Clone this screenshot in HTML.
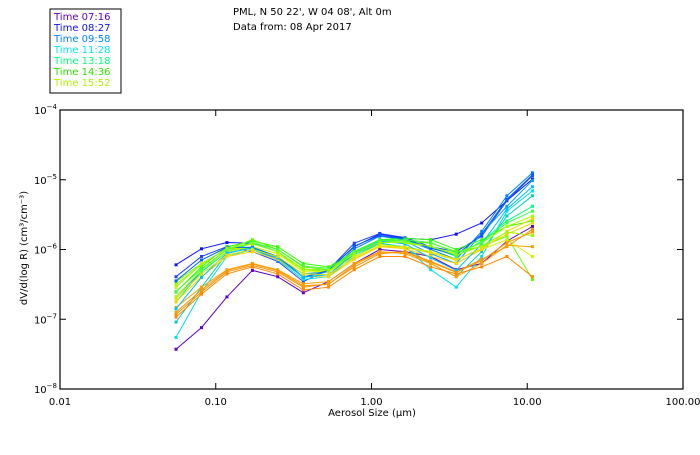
<!DOCTYPE html>
<html><head><meta charset="utf-8"><style>
body{margin:0;background:#fff;}
svg text{font-family:"DejaVu Sans","Liberation Sans",sans-serif;font-size:10px;}
</style></head><body>
<svg id="c" width="700" height="450">
<rect x="50" y="9" width="71" height="84" fill="none" stroke="#000" stroke-width="1"/>
<g>
<text x="54" y="20" fill="#6000c0">Time 07:16</text>
<text x="54" y="31" fill="#1010ff">Time 08:27</text>
<text x="54" y="42" fill="#0080ff">Time 09:58</text>
<text x="54" y="53" fill="#00e8e8">Time 11:28</text>
<text x="54" y="64" fill="#00ff80">Time 13:18</text>
<text x="54" y="75" fill="#30e000">Time 14:36</text>
<text x="54" y="86" fill="#b0f000">Time 15:52</text>
</g>
<text x="233" y="15">PML, N 50 22', W 04 08', Alt 0m</text>
<text x="233" y="30">Data from: 08 Apr 2017</text>
<text x="372" y="416" text-anchor="middle">Aerosol Size (μm)</text>
<text transform="translate(27,248) rotate(-90)" text-anchor="middle">dV/d(log R) (cm³/cm⁻³)</text>
<g id="axes"></g>
<g id="series"></g>
</svg>
<script>
const xTickLabels=["0.01","0.10","1.00","10.00","100.00"];
const xTickValues=[0.01,0.1,1,10,100];
const yTickExps=[-4,-5,-6,-7,-8];
const sizes=[0.0556,0.081,0.118,0.172,0.25,0.365,0.53,0.775,1.13,1.64,2.4,3.5,5.1,7.4,10.8];
const seriesColors=["#6000c0","#1010ff","#2040ff","#0080ff","#00a0ff","#00e0e8","#00d0c0","#00ff80","#30ff00","#60ff00","#b0ff00","#d8f000","#ffd000","#ff9000","#ffa000","#ff8800","#0060ff","#00c0ff","#40ff40","#90ff00","#e0e000","#ff9800"];
const s0=[-7.43,-7.12,-6.68,-6.30,-6.39,-6.62,-6.46,-6.20,-6.00,-6.03,-6.10,-6.29,-6.20,-5.88,-5.67];
const s1=[-6.22,-5.99,-5.90,-5.91,-6.03,-6.29,-6.29,-5.96,-5.78,-5.84,-5.86,-5.78,-5.62,-5.30,-4.99];
const s2=[-6.39,-6.10,-5.96,-6.03,-6.17,-6.46,-6.29,-5.91,-5.77,-5.83,-5.96,-6.03,-5.81,-5.30,-4.94];
const s3=[-6.54,-6.20,-5.99,-5.99,-6.14,-6.39,-6.32,-5.99,-5.81,-5.86,-6.00,-6.14,-5.74,-5.23,-4.90];
const s4=[-6.68,-6.32,-6.03,-5.96,-6.12,-6.35,-6.32,-6.03,-5.86,-5.88,-6.06,-6.20,-5.77,-5.38,-5.01];
const s5=[-7.26,-6.61,-6.10,-6.00,-6.15,-6.43,-6.39,-6.10,-5.91,-5.96,-6.29,-6.54,-6.10,-5.45,-5.16];
const s6=[-7.04,-6.54,-6.06,-5.97,-6.10,-6.39,-6.36,-6.07,-5.91,-5.97,-6.20,-6.39,-6.03,-5.52,-5.23];
const s7=[-6.75,-6.32,-6.03,-5.91,-6.03,-6.29,-6.29,-6.06,-5.88,-5.88,-5.96,-6.10,-5.88,-5.59,-5.38];
const s8=[-6.61,-6.25,-5.96,-5.88,-5.96,-6.20,-6.25,-6.03,-5.86,-5.84,-5.86,-6.00,-5.86,-5.67,-5.59];
const s9=[-6.46,-6.20,-6.00,-5.86,-6.00,-6.25,-6.29,-6.03,-5.88,-5.88,-5.91,-6.03,-5.96,-5.81,-6.43];
const s10=[-6.68,-6.29,-6.03,-5.96,-6.06,-6.29,-6.32,-6.06,-5.88,-5.91,-5.96,-6.06,-5.91,-5.67,-5.52];
const s11=[-6.54,-6.20,-6.00,-5.96,-6.06,-6.32,-6.32,-6.10,-5.93,-5.96,-6.03,-6.14,-6.00,-5.86,-6.10];
const s12=[-6.75,-6.39,-6.10,-6.03,-6.14,-6.39,-6.39,-6.14,-5.96,-5.99,-6.10,-6.20,-6.00,-5.74,-5.56];
const s13=[-6.93,-6.61,-6.32,-6.23,-6.32,-6.54,-6.49,-6.25,-6.06,-6.03,-6.17,-6.32,-6.14,-5.96,-5.71];
const s14=[-6.83,-6.54,-6.29,-6.20,-6.29,-6.49,-6.46,-6.20,-6.03,-6.06,-6.20,-6.39,-6.20,-5.94,-5.96];
const s15=[-6.97,-6.64,-6.35,-6.25,-6.35,-6.58,-6.54,-6.29,-6.10,-6.10,-6.25,-6.35,-6.25,-6.10,-6.39];
const s16=[-6.45,-6.15,-5.97,-5.97,-6.10,-6.40,-6.30,-5.95,-5.80,-5.85,-5.98,-6.08,-5.78,-5.28,-4.93];
const s17=[-6.85,-6.40,-6.05,-5.98,-6.12,-6.40,-6.36,-6.05,-5.88,-5.92,-6.12,-6.30,-5.92,-5.42,-5.10];
const s18=[-6.60,-6.28,-6.00,-5.90,-6.00,-6.24,-6.27,-6.04,-5.87,-5.86,-5.90,-6.05,-5.90,-5.62,-5.45];
const s19=[-6.50,-6.22,-5.98,-5.92,-6.03,-6.28,-6.30,-6.06,-5.90,-5.90,-5.95,-6.08,-5.95,-5.75,-5.80];
const s20=[-6.70,-6.35,-6.08,-6.00,-6.10,-6.35,-6.36,-6.12,-5.95,-5.97,-6.05,-6.15,-5.98,-5.78,-5.62];
const s21=[-6.90,-6.58,-6.30,-6.21,-6.30,-6.52,-6.50,-6.22,-6.04,-6.04,-6.18,-6.33,-6.16,-5.90,-5.75];
const seriesData=[s0,s1,s2,s3,s4,s5,s6,s7,s8,s9,s10,s11,s12,s13,s14,s15,s16,s17,s18,s19,s20,s21];
const NS="http://www.w3.org/2000/svg";
const X0=60,X1=683,Y0=110,Y1=389;
function xScale(v){return X0+(Math.log10(v)+2)/4*(X1-X0);}
function yScale(e){return Y0+(-4-e)/4*(Y1-Y0);}
function mk(tag,attrs,parent){const el=document.createElementNS(NS,tag);for(const k in attrs)el.setAttribute(k,attrs[k]);parent.appendChild(el);return el;}
const axes=document.getElementById('axes');
const frame=mk('rect',{x:X0,y:Y0,width:X1-X0,height:Y1-Y0,fill:'none',stroke:'#000','stroke-width':1.2},axes);


xTickValues.forEach((v,i)=>{
  const x=xScale(v);
  const t1=mk('line',{x1:x,x2:x,y1:Y1,y2:Y1-6,stroke:'#000'},axes);
  
  
  const t2=mk('line',{x1:x,x2:x,y1:Y0,y2:Y0+6,stroke:'#000'},axes);
  
  
  const tx=mk('text',{x:x,y:Y1+16,'text-anchor':'middle'},axes);
  tx.textContent=xTickLabels[i];
  
  
});
yTickExps.forEach(e=>{
  const y=yScale(e);
  const t1=mk('line',{x1:X0,x2:X0+6,y1:y,y2:y,stroke:'#000'},axes);
  
  
  const t2=mk('line',{x1:X1,x2:X1-6,y1:y,y2:y,stroke:'#000'},axes);
  
  
  const tx=mk('text',{x:X0-3,y:y+4,'text-anchor':'end'},axes);
  tx.innerHTML='10<tspan dy="-5" font-size="7">'+(e<0?'−':'')+Math.abs(e)+'</tspan>';
  
  
});
const sg=document.getElementById('series');
seriesData.forEach((d,i)=>{
  const g=mk('g',{},sg);
  
  
  const pts=d.map((e,j)=>xScale(sizes[j]).toFixed(1)+','+yScale(e).toFixed(1)).join(' ');
  const pl=mk('polyline',{points:pts,fill:'none',stroke:seriesColors[i],'stroke-width':1},g);
  
  
  d.forEach((e,j)=>{
    const r=mk('rect',{x:xScale(sizes[j])-1.5,y:yScale(e)-1.5,width:3,height:3,fill:seriesColors[i]},g);
    
    
  });
});
</script>
</body></html>
